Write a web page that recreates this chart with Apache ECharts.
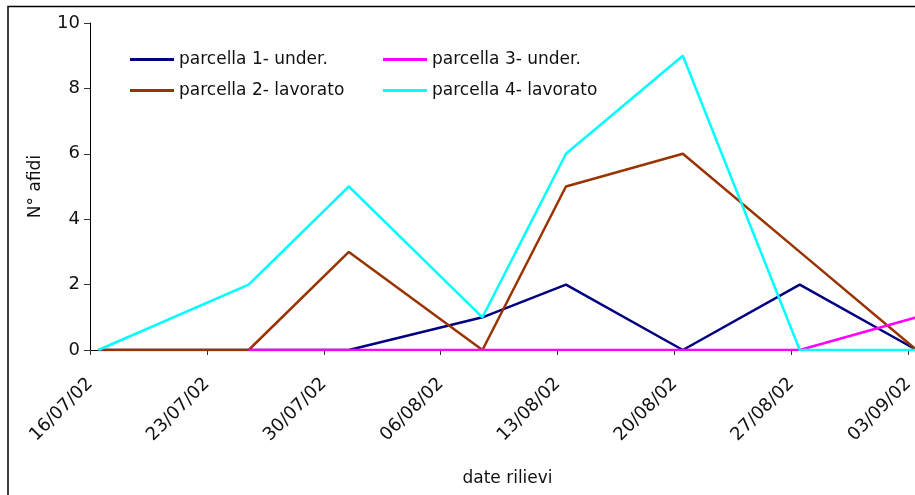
<!DOCTYPE html>
<html>
<head>
<meta charset="utf-8">
<script src="https://cdn.jsdelivr.net/npm/echarts@6/dist/echarts.min.js"></script>
<style>
  html, body { margin: 0; padding: 0; background: #fff; overflow: hidden; }
  /* il grafico originale continua oltre il bordo destro: il div è più largo della finestra */
  #chart { width: 935px; height: 495px; }
</style>
</head>
<body>
<div id="chart"></div>
<script>
// date rilievi (gg/mm/aa)
var dates = ['16/07/02', '25/07/02', '31/07/02', '08/08/02', '13/08/02', '20/08/02', '27/08/02', '03/09/02']
var parcella1 = [0, 0, 0, 1, 2, 0, 2, 0]
var parcella2 = [0, 0, 3, 0, 5, 6, 3, 0]
var parcella3 = [null, 0, 0, 0, 0, 0, 0, 1]
var parcella4 = [0, 2, 5, 1, 6, 9, 0, 0]
var seriesNames = ['parcella 1- under.', 'parcella 2- lavorato', 'parcella 3- under.', 'parcella 4- lavorato']
var colors = ['#000080', '#993300', '#FF00FF', '#00FFFF']
var yTicks = [0, 2, 4, 6, 8, 10]

var DAY = 24 * 3600 * 1000
function toUTC(s) {
  var p = s.split('/')
  return Date.UTC(2000 + Number(p[2]), Number(p[1]) - 1, Number(p[0]))
}
var start = toUTC(dates[0])
// giorni dall'inizio, punto a metà giornata come in Excel
function dayOf(s) {
  return (toUTC(s) - start) / DAY + 0.5
}
function pad(n) {
  return n < 10 ? '0' + n : '' + n
}
function fmtDay(v) {
  if (v % 7 !== 0) return ''
  var d = new Date(start + v * DAY)
  return pad(d.getUTCDate()) + '/' + pad(d.getUTCMonth() + 1) + '/' + pad(d.getUTCFullYear() % 100)
}
function build(values) {
  var out = []
  for (var i = 0; i < dates.length; i++) {
    if (values[i] === null) continue
    out.push([dayOf(dates[i]), values[i]])
  }
  return out
}

var font = 'DejaVu Sans'
var chart = echarts.init(document.getElementById('chart'))
var allValues = [parcella1, parcella2, parcella3, parcella4]
var series = allValues.map(function(vals, i) {
  return {
    name: seriesNames[i],
    type: 'line',
    data: build(vals),
    symbol: 'none',
    color: colors[i],
    lineStyle: { width: 2.5, color: colors[i] },
    z: 2 + i,
    animation: false
  }
})

var legendBase = {
  orient: 'vertical',
  icon: 'rect',
  itemWidth: 44,
  itemHeight: 3,
  itemGap: 14,
  padding: 0,
  textStyle: { fontFamily: font, fontSize: 17, color: '#111' },
  selectedMode: false
}

var option = {
  backgroundColor: '#fff',
  animation: false,
  grid: { left: 90, top: 23, right: 10, bottom: 145, containLabel: false },
  legend: [
    Object.assign({}, legendBase, { left: 130, top: 51, data: [seriesNames[0], seriesNames[1]] }),
    Object.assign({}, legendBase, { left: 383, top: 51, data: [seriesNames[2], seriesNames[3]] })
  ],
  xAxis: {
    type: 'value',
    min: 0,
    max: 50,
    interval: 7,
    name: 'date rilievi',
    nameLocation: 'middle',
    nameGap: 120,
    nameTextStyle: { fontFamily: font, fontSize: 17, color: '#111' },
    axisLine: { show: true, lineStyle: { color: '#000', width: 1 } },
    axisTick: { show: true, length: 5, lineStyle: { color: '#333' } },
    axisLabel: {
      rotate: 45,
      margin: 31,
      fontFamily: font,
      fontSize: 18,
      color: '#111',
      formatter: fmtDay
    },
    splitLine: { show: false }
  },
  yAxis: {
    type: 'value',
    min: yTicks[0],
    max: yTicks[yTicks.length - 1],
    interval: 2,
    name: 'N° afidi',
    nameLocation: 'middle',
    nameGap: 46,
    nameTextStyle: { fontFamily: font, fontSize: 17, color: '#111' },
    axisLine: { show: true, lineStyle: { color: '#000', width: 1 } },
    axisTick: { show: true, length: 6, lineStyle: { color: '#333' } },
    axisLabel: { fontFamily: font, fontSize: 18, color: '#111', margin: 10 },
    splitLine: { show: false }
  },
  graphic: [{
    type: 'rect',
    shape: { x: 8, y: 6.5, width: 1200, height: 1200 },
    style: { fill: 'none', stroke: '#000', lineWidth: 1.5 },
    silent: true
  }],
  series: series
}
chart.setOption(option)
</script>
</body>
</html>
